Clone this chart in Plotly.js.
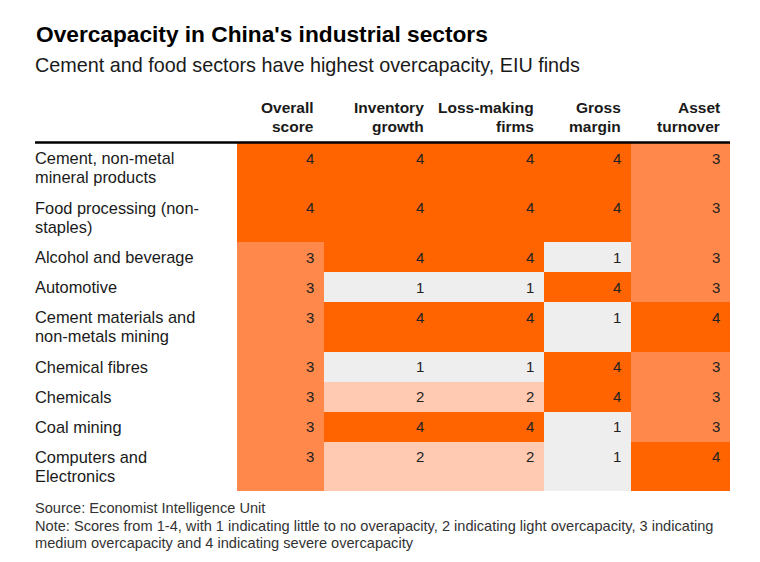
<!DOCTYPE html>
<html>
<head>
<meta charset="utf-8">
<script src="https://cdn.plot.ly/plotly-3.0.1.min.js"></script>
<style>
  html, body { margin: 0; padding: 0; background: #fff; }
  #chart { width: 760px; height: 562px; }
</style>
</head>
<body>
<div id="chart"></div>
<script>
// ---- Data ----
const sectors = [
  "Cement, non-metal<br>mineral products",
  "Food processing (non-<br>staples)",
  "Alcohol and beverage",
  "Automotive",
  "Cement materials and<br>non-metals mining",
  "Chemical fibres",
  "Chemicals",
  "Coal mining",
  "Computers and<br>Electronics"
];
const columns = [
  "Overall<br>score",
  "Inventory<br>growth",
  "Loss-making<br>firms",
  "Gross<br>margin",
  "Asset<br>turnover"
];
const overallScore     = [4, 4, 3, 3, 3, 3, 3, 3, 3];
const inventoryGrowth  = [4, 4, 4, 1, 4, 1, 2, 4, 2];
const lossMakingFirms  = [4, 4, 4, 1, 4, 1, 2, 4, 2];
const grossMargin      = [4, 4, 1, 4, 1, 4, 4, 1, 1];
const assetTurnover    = [3, 3, 3, 3, 4, 3, 3, 3, 4];

const titleText = "Overcapacity in China's industrial sectors";
const subtitleText = "Cement and food sectors have highest overcapacity, EIU finds";
const sourceText = "Source: Economist Intelligence Unit";
const noteText = "Note: Scores from 1-4, with 1 indicating little to no overapacity, 2 indicating light overcapacity, 3 indicating<br>medium overcapacity and 4 indicating severe overcapacity";

// ---- Layout constants (styling, not data) ----
const W = 760, H = 562;
const tableLeft = 35;
const firstColLeft = 237;
const colWidths = [87, 110, 110, 87, 99];
const tableTop = 143;
const lineRowH = 30, extraLineH = 19.5;
const colors = ["#EEEEEE", "#FFCAB1", "#FF884A", "#FF6400"];
const fontFam = "Liberation Sans, Arial, Helvetica, sans-serif";

const series = [overallScore, inventoryGrowth, lossMakingFirms, grossMargin, assetTurnover];
const z = sectors.map((_, r) => series.map(s => s[r]));

// column edges
const xEdges = [firstColLeft];
colWidths.forEach(w => xEdges.push(xEdges[xEdges.length - 1] + w));
// row edges based on number of label lines
const yEdges = [tableTop];
sectors.forEach(s => {
  const lines = s.split("<br>").length;
  yEdges.push(yEdges[yEdges.length - 1] + lineRowH + (lines - 1) * extraLineH);
});

const colorscale = [
  [0, colors[0]], [0.1667, colors[0]],
  [0.1667, colors[1]], [0.5, colors[1]],
  [0.5, colors[2]], [0.8333, colors[2]],
  [0.8333, colors[3]], [1, colors[3]]
];

const trace = {
  type: "heatmap",
  x: xEdges,
  y: yEdges,
  z: z,
  zmin: 1, zmax: 4,
  colorscale: colorscale,
  showscale: false,
  hoverinfo: "skip",
  xgap: 0, ygap: 0
};

const annotations = [];
function addLines(text, x, y0, spacing, xanchor, font) {
  text.split("<br>").forEach((ln, i) => {
    annotations.push({
      x: x, y: y0 + i * spacing, xref: "x", yref: "y",
      xanchor: xanchor, yanchor: "middle", align: xanchor,
      text: ln, showarrow: false, font: font
    });
  });
}
// header annotations
columns.forEach((c, j) => {
  addLines(c, xEdges[j + 1] - 8, 107.5, 19, "right",
    { family: fontFam, size: 15.5, color: "#1a1a1a", weight: "bold" });
});
// row labels and values
sectors.forEach((s, r) => {
  addLines(s, tableLeft - 2, yEdges[r] + 15, 19, "left",
    { family: fontFam, size: 16.4, color: "#1a1a1a" });
  series.forEach((ser, j) => {
    annotations.push({
      x: xEdges[j + 1] - 8, y: yEdges[r] + 15, xref: "x", yref: "y",
      xanchor: "right", yanchor: "middle",
      text: String(ser[r]), showarrow: false,
      font: { family: fontFam, size: 15, color: "#222" }
    });
  });
});
// subtitle
annotations.push({
  x: tableLeft - 2, y: 65, xref: "x", yref: "y", xanchor: "left", yanchor: "middle",
  text: subtitleText, showarrow: false,
  font: { family: fontFam, size: 19.8, color: "#1a1a1a" }
});
// footer
addLines(sourceText + "<br>" + noteText, tableLeft - 2, 508, 17.5, "left",
  { family: fontFam, size: 14.6, color: "#333" });

const layout = {
  width: W, height: H,
  margin: { l: 0, r: 0, t: 0, b: 0 },
  paper_bgcolor: "#fff", plot_bgcolor: "#fff",
  title: {
    text: titleText,
    x: (tableLeft + 1) / W, xanchor: "left", xref: "paper",
    y: 1 - 34 / H, yanchor: "middle", yref: "container",
    font: { family: fontFam, size: 22.7, color: "#000", weight: "bold" }
  },
  xaxis: { range: [0, W], visible: false, fixedrange: true },
  yaxis: { range: [H, 0], visible: false, fixedrange: true },
  shapes: [{
    type: "line", xref: "x", yref: "y",
    x0: tableLeft, x1: xEdges[xEdges.length - 1], y0: tableTop - 0.5, y1: tableTop - 0.5,
    line: { color: "#000", width: 2.5 }
  }],
  annotations: annotations,
  showlegend: false
};

Plotly.newPlot("chart", [trace], layout, { displayModeBar: false, staticPlot: true });
</script>
</body>
</html>
